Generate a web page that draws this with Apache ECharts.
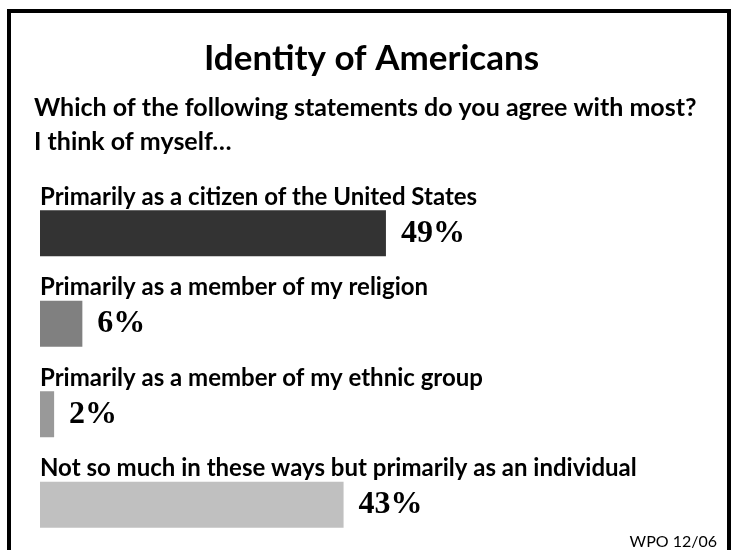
<!DOCTYPE html>
<html>
<head>
<meta charset="utf-8">
<script src="https://cdn.jsdelivr.net/npm/echarts@6/dist/echarts.min.js"></script>
<style>
  html, body { margin: 0; padding: 0; background: #fff; }
  #chart { width: 731px; height: 550px; }
</style>
</head>
<body>
<div id="chart"></div>
<script>
// answers to the survey question
var categories = [
  'Primarily as a citizen of the United States',
  'Primarily as a member of my religion',
  'Primarily as a member of my ethnic group',
  'Not so much in these ways but primarily as an individual'
];
var percents = [49, 6, 2, 43];
var barColors = ['#333333', '#808080', '#999999', '#c0c0c0'];

var chart = echarts.init(document.getElementById('chart'));

var option = {
  backgroundColor: '#fff',
  animation: false,
  title: [
    {
      text: 'Identity of Americans',
      left: 199,
      top: 36,
      textStyle: { fontFamily: 'Lato', fontWeight: 'bold', fontSize: 35, color: '#000' }
    },
    {
      text: 'Which of the following statements do you agree with most?\nI think of myself…',
      left: 29,
      top: 86,
      textStyle: { fontFamily: 'Lato', fontWeight: 'bold', fontSize: 25, lineHeight: 34, color: '#000' }
    },
    {
      text: 'WPO 12/06',
      right: 9,
      top: 529,
      textStyle: { fontFamily: 'Lato', fontWeight: 'normal', fontSize: 16, color: '#000' }
    }
  ],
  graphic: [
    {
      type: 'rect',
      shape: { x: 9, y: 11, width: 720, height: 600 },
      style: { fill: null, stroke: '#000', lineWidth: 4 },
      silent: true
    }
  ],
  grid: { left: 40, top: 188, width: 635.4, height: 372 },
  xAxis: {
    type: 'value',
    min: 0,
    max: 90,
    show: false
  },
  yAxis: {
    type: 'category',
    inverse: true,
    data: categories,
    axisLine: { show: false },
    axisTick: { show: false },
    axisLabel: {
      inside: true,
      margin: 0,
      align: 'left',
      verticalAlign: 'bottom',
      padding: [0, 0, 24, 0],
      fontFamily: 'Lato',
      fontWeight: 'bold',
      fontSize: 24,
      color: '#000'
    }
  },
  series: [
    {
      type: 'bar',
      barWidth: 46,
      data: percents.map(function (v, i) {
        return { value: v, itemStyle: { color: barColors[i] } };
      }),
      label: {
        show: true,
        position: 'right',
        distance: 15,
        formatter: '{c}%',
        fontFamily: 'Liberation Serif',
        fontWeight: 'bold',
        fontSize: 32,
        color: '#000'
      }
    }
  ]
};

chart.setOption(option);
</script>
</body>
</html>
